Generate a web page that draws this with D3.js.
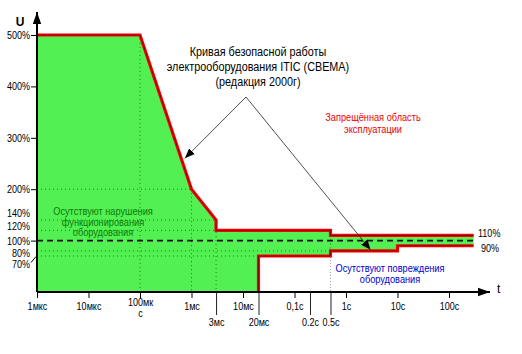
<!DOCTYPE html>
<html>
<head>
<meta charset="utf-8">
<script src="https://cdn.jsdelivr.net/npm/d3@7"></script>
<style>
  body { margin: 0; background: #fff; }
  svg text { font-family: "Liberation Sans", Arial, sans-serif; }
</style>
</head>
<body>
<div id="chart"></div>
<script>
// ITIC (CBEMA) curve data: time in seconds, voltage in %
const upperTime = [1e-6, 1e-4, 1e-3, 3e-3, 3e-3, 0.5, 0.5, 300];
const upperVolt = [500, 500, 200, 140, 120, 120, 110, 110];
const lowerTime = [1e-6, 0.02, 0.02, 0.5, 0.5, 10, 10, 300];
const lowerVolt = [0, 0, 70, 70, 80, 80, 90, 90];

const yTicks = [500, 400, 300, 200, 140, 120, 100, 80, 70];
const decadeTicks = [1e-6, 1e-5, 1e-4, 1e-3, 1e-2, 1e-1, 1, 10, 100];
const decadeLabels = ["1мкс", "10мкс", "100мк|с", "1мс", "10мс", "0,1с", "1с", "10с", "100с"];
const extraTicks = [3e-3, 0.02, 0.2, 0.5];
const extraLabels = ["3мс", "20мс", "0.2с", "0.5с"];

const width = 522, height = 354;

const svg = d3.select("#chart")
    .append("svg")
    .attr("width", width)
    .attr("height", height);

// squeeze text horizontally (the original uses a narrow font)
function narrow(sel, k) {
    sel.each(function() {
        const w = this.getComputedTextLength();
        d3.select(this).attr("textLength", w * k).attr("lengthAdjust", "spacingAndGlyphs");
    });
}

// Scales
const x = d3.scaleLog().domain([1e-6, 100]).range([37, 449]);
const y = d3.scaleLinear().domain([0, 500]).range([292, 35]);

// Green area between lower and upper curves
const upper = upperTime.map((t, i) => [t, upperVolt[i]]);
const lower = lowerTime.map((t, i) => [t, lowerVolt[i]]);
const areaPts = upper.concat(lower.slice().reverse());

svg.append("path")
    .datum(areaPts)
    .attr("fill", "#52f052")
    .attr("d", d3.line().x(d => x(d[0])).y(d => y(d[1])).curve(d3.curveLinearClosed));

// Dotted gridlines inside the area
const grid = svg.append("g")
    .attr("stroke", "#138a13")
    .attr("stroke-width", 1)
    .attr("stroke-dasharray", "1,3");

[[200, 1e-3], [140, 3e-3], [120, 3e-3], [80, 0.5], [70, 0.02]].forEach(([u, tEnd]) => {
    grid.append("line")
        .attr("x1", x(1e-6)).attr("x2", x(tEnd))
        .attr("y1", y(u)).attr("y2", y(u));
});
[[1e-4, 500], [1e-3, 200], [3e-3, 140]].forEach(([t, u]) => {
    grid.append("line")
        .attr("x1", x(t)).attr("x2", x(t))
        .attr("y1", y(u)).attr("y2", y(0));
});
// 0.5s gridline (green part + grey part)
grid.append("line")
    .attr("x1", x(0.5)).attr("x2", x(0.5))
    .attr("y1", y(110)).attr("y2", y(80));
svg.append("line")
    .attr("x1", x(0.5)).attr("x2", x(0.5))
    .attr("y1", y(80)).attr("y2", y(0))
    .attr("stroke", "#999")
    .attr("stroke-dasharray", "1,2");

// 100% dashed line
svg.append("line")
    .attr("x1", x(1e-6)).attr("x2", x(300))
    .attr("y1", y(100)).attr("y2", y(100))
    .attr("stroke", "#111")
    .attr("stroke-width", 1.6)
    .attr("stroke-dasharray", "6,4");

// Curve outlines
const curveLine = d3.line().x(d => x(d[0])).y(d => y(d[1]));
[upper, lower.slice(1)].forEach(pts => {
    svg.append("path")
        .datum(pts)
        .attr("fill", "none")
        .attr("stroke", "#ff0000")
        .attr("stroke-width", 3.2)
        .attr("d", curveLine);
    svg.append("path")
        .datum(pts)
        .attr("fill", "none")
        .attr("stroke", "#700000")
        .attr("stroke-width", 0.8)
        .attr("d", curveLine);
});

// Arrow markers
const defs = svg.append("defs");
defs.append("marker")
    .attr("id", "head")
    .attr("viewBox", "0 0 10 10")
    .attr("refX", 10).attr("refY", 5)
    .attr("markerWidth", 10).attr("markerHeight", 10)
    .attr("markerUnits", "userSpaceOnUse")
    .attr("orient", "auto")
    .append("path")
    .attr("d", "M0,1 L10,5 L0,9 Z")
    .attr("fill", "#000");

defs.append("marker")
    .attr("id", "axisHead")
    .attr("viewBox", "0 0 10 10")
    .attr("refX", 10).attr("refY", 5)
    .attr("markerWidth", 12).attr("markerHeight", 12)
    .attr("markerUnits", "userSpaceOnUse")
    .attr("orient", "auto")
    .append("path")
    .attr("d", "M0,1.5 L10,5 L0,8.5 Z")
    .attr("fill", "#000");

// Y axis
const labelShift = { 140: -7, 120: -4, 100: 0, 80: 2, 70: 8 };
const yAxis = svg.append("g")
    .attr("transform", `translate(${x(1e-6)},0)`)
    .call(d3.axisLeft(y).tickValues(yTicks).tickSize(6).tickFormat(d => d + "%"));
yAxis.select(".domain").remove();
yAxis.selectAll("text")
    .attr("font-size", 11)
    .attr("fill", "#000")
    .attr("x", -7)
    .attr("y", d => labelShift[d] || 0)
    .call(narrow, 0.82);
yAxis.selectAll(".tick").filter(d => d === 140 || d === 120 || d === 80)
    .select("line").remove();
yAxis.selectAll(".tick").filter(d => d === 70)
    .select("line").attr("x1", -1).attr("y1", 0).attr("x2", -6).attr("y2", 6);

svg.append("line")
    .attr("x1", x(1e-6)).attr("x2", x(1e-6))
    .attr("y1", y(0)).attr("y2", 12)
    .attr("stroke", "#000")
    .attr("stroke-width", 2)
    .attr("marker-end", "url(#axisHead)");

svg.append("text")
    .attr("x", 20).attr("y", 26)
    .attr("font-size", 12)
    .attr("font-weight", "bold")
    .attr("text-anchor", "middle")
    .text("U");

// X axis: decades
const xAxis = svg.append("g")
    .attr("transform", `translate(0,${y(0)})`)
    .call(d3.axisBottom(x).tickValues(decadeTicks).tickSize(6).tickFormat((d, i) => decadeLabels[i]));
xAxis.select(".domain").remove();
xAxis.selectAll("text")
    .attr("font-size", 11)
    .attr("fill", "#000")
    .attr("y", 10)
    .each(function() {
        const t = d3.select(this);
        const parts = t.text().split("|");
        if (parts.length > 1) {
            const g = d3.select(this.parentNode);
            t.text(parts[0]).attr("y", 6).attr("dy", "0.71em");
            g.append("text")
                .attr("font-size", 11).attr("fill", "#000")
                .attr("y", 17).attr("dy", "0.71em")
                .text(parts[1]);
        }
    });
xAxis.selectAll("text").call(narrow, 0.82);

// X axis: long ticks
const xAxis2 = svg.append("g")
    .attr("transform", `translate(0,${y(0)})`)
    .call(d3.axisBottom(x).tickValues(extraTicks).tickSize(23).tickFormat((d, i) => extraLabels[i]));
xAxis2.select(".domain").remove();
xAxis2.selectAll("line").attr("stroke", "#222");
xAxis2.selectAll("text")
    .attr("font-size", 11)
    .attr("fill", "#000")
    .attr("y", 26)
    .call(narrow, 0.82);

svg.append("line")
    .attr("x1", x(1e-6)).attr("x2", 490)
    .attr("y1", y(0)).attr("y2", y(0))
    .attr("stroke", "#000")
    .attr("stroke-width", 2)
    .attr("marker-end", "url(#axisHead)");

svg.append("text")
    .attr("x", 497).attr("y", 293)
    .attr("font-size", 12)
    .text("t");

// Percentage labels at right
svg.append("text").attr("x", 478).attr("y", y(110) + 2).attr("font-size", 11).text("110%").call(narrow, 0.82);
svg.append("text").attr("x", 481).attr("y", y(90) + 6).attr("font-size", 11).text("90%").call(narrow, 0.82);

// Region labels and title, one text per line
function block(lines, cx, y0, dy, color, size, k) {
    lines.forEach((s, i) => {
        svg.append("text")
            .attr("text-anchor", "middle")
            .attr("font-size", size)
            .attr("fill", color)
            .attr("x", cx)
            .attr("y", y0 + i * dy)
            .text(s)
            .call(narrow, k);
    });
}
block(["Кривая безопасной работы", "электрооборудования ITIC (CBEMA)", "(редакция 2000г)"], 258, 56, 15, "#000", 12, 0.9);

svg.append("path")
    .attr("d", `M246,97 L${x(6.8e-4) + 2},${y(260)}`)
    .attr("stroke", "#222")
    .attr("stroke-width", 0.8)
    .attr("fill", "none")
    .attr("marker-end", "url(#head)");
svg.append("path")
    .attr("d", `M246,97 L${x(3)},${y(82)}`)
    .attr("stroke", "#222")
    .attr("stroke-width", 0.8)
    .attr("fill", "none")
    .attr("marker-end", "url(#head)");

block(["Запрещённая область", "эксплуатации"], 373, 121, 12, "#ee0000", 11.5, 0.8);
block(["Осутствуют нарушения", "функционирования", "оборудования"], 103, 215, 10.5, "#0a7a0a", 11.5, 0.8);
block(["Осутствуют повреждения", "оборудования"], 390, 272, 11, "#0000cc", 11.5, 0.8);
</script>
</body>
</html>
